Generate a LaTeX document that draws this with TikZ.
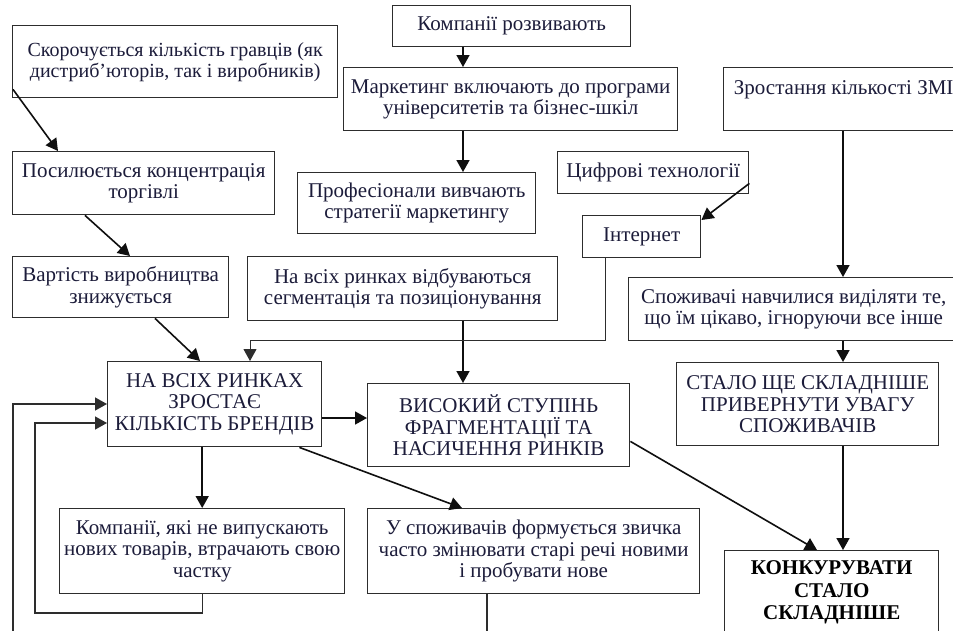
\documentclass[tikz,border=0pt]{standalone}
\usepackage{fontspec}
\setmainfont{Liberation Serif}
\usepackage{xcolor}
\usepackage{tikz}
\usetikzlibrary{positioning,calc,arrows.meta}
\definecolor{mktInk}{RGB}{28, 28, 58}
\definecolor{mktFrame}{RGB}{45, 45, 45}
\definecolor{mktLine}{RGB}{15, 15, 15}

\tikzset{
    mktbox/.style={draw=mktFrame, line width=1.4pt, anchor=north west, align=center,
        inner sep=0pt, text=mktInk, font=\fontsize{21}{21.5}\selectfont},
    mktarrow/.style={draw=mktLine, line width=1.6pt, -{Triangle[length=12pt,width=13pt]}},
}

\begin{document}
\begin{tikzpicture}[x=1pt, y=-1pt]
        % Page frame (pixel grid, y down)
        \useasboundingbox (0,0) rectangle (953,630);
        \fill[white] (0,0) rectangle (953,630);
        \clip (0,0) rectangle (953,630);
        % Columns used by the straight arrows
        \coordinate (midcol) at (463,0);
        \coordinate (rcol) at (843,0);
        \coordinate (brow) at (0,418);
        % Left column
        \node[mktbox, minimum width=325pt, minimum height=72pt,
            font=\fontsize{20}{21}\selectfont] (skor) at (12,25)
            {Скорочується кількість гравців (як\\дистриб’юторів, так і виробників)};
        \node[mktbox, minimum width=262pt, minimum height=63pt] (posyl) at (12,151)
            {Посилюється концентрація\\торгівлі};
        \node[mktbox, minimum width=216pt, minimum height=61pt] (vart) at (12,256)
            {Вартість виробництва\\знижується};
        % Middle column, top
        \node[mktbox, minimum width=238pt, minimum height=41pt] (komp) at (392,5)
            {Компанії розвивають};
        \node[mktbox, minimum width=334pt, minimum height=63pt] (mark) at (343,67)
            {Маркетинг включають до програми\\університетів та бізнес-шкіл};
        \node[mktbox, minimum width=238pt, minimum height=61pt] (prof) at (297,172)
            {Професіонали вивчають\\стратегії маркетингу};
        \node[mktbox, minimum width=191pt, minimum height=42pt] (tsyfr) at (557,151)
            {Цифрові технології};
        \node[mktbox, minimum width=118pt, minimum height=42pt] (inet) at (582,215)
            {Інтернет};
        \node[mktbox, minimum width=310pt, minimum height=64pt] (segm) at (247,256)
            {На всіх ринках відбуваються\\сегментація та позиціонування};
        % Right column
        \node[mktbox, minimum width=240pt, text height=27pt, text depth=36pt] (zmi) at (723,67)
            {Зростання кількості ЗМІ};
        \node[mktbox, minimum width=330pt, minimum height=63pt] (navch) at (628,277)
            {Споживачі навчилися виділяти те,\\що їм цікаво, ігноруючи все інше};
        \node[mktbox, minimum width=262pt, minimum height=83pt] (uvaga) at (676,362)
            {СТАЛО ЩЕ СКЛАДНІШЕ\\ПРИВЕРНУТИ УВАГУ\\СПОЖИВАЧІВ};
        \node[mktbox, minimum width=214pt, minimum height=84pt, text=black,
            font=\fontsize{21}{22.5}\selectfont\bfseries] (konk) at (724,550)
            {КОНКУРУВАТИ\\СТАЛО\\СКЛАДНІШЕ};
        % Central results
        \node[mktbox, minimum width=214pt, minimum height=85pt] (brend) at (107,361)
            {НА ВСІХ РИНКАХ\\ЗРОСТАЄ\\КІЛЬКІСТЬ БРЕНДІВ};
        \node[mktbox, minimum width=262pt, minimum height=83pt] (fragm) at (367,383)
            {ВИСОКИЙ СТУПІНЬ\\ФРАГМЕНТАЦІЇ ТА\\НАСИЧЕННЯ РИНКІВ};
        % Bottom row
        \node[mktbox, minimum width=285pt, minimum height=85pt] (vtrat) at (59,508)
            {Компанії, які не випускають\\нових товарів, втрачають свою\\частку};
        \node[mktbox, minimum width=332pt, minimum height=85pt] (zvych) at (367,508)
            {У споживачів формується звичка\\часто змінювати старі речі новими\\і пробувати нове};
        % Arrows of the left chain
        \draw[mktarrow] ($(skor.south west)+(1,-9)$) -- ($(posyl.north west)+(46,0)$);
        \draw[mktarrow] ($(posyl.south west)+(73,0)$) -- ($(vart.north west)+(118,0)$);
        \draw[mktarrow] ($(vart.south west)+(143,0)$) -- ($(brend.north west)+(93,0)$);
        % Arrows of the middle chain
        \draw[mktarrow] (komp.south -| midcol) -- (mark.north -| midcol);
        \draw[mktarrow] (mark.south -| midcol) -- (prof.north -| midcol);
        \draw[mktarrow] (segm.south -| midcol) -- (fragm.north -| midcol);
        \draw[mktarrow] ($(tsyfr.south east)+(0,-11)$) -- ($(inet.north east)+(0,5)$);
        \draw[mktarrow, line width=1pt, draw=mktFrame] ($(inet.south west)+(23,0)$) -- ++(0,82)
            -| ($(brend.north west)+(143,0)$);
        % Arrows of the right chain
        \draw[mktarrow] (zmi.south -| rcol) -- (navch.north -| rcol);
        \draw[mktarrow] (navch.south -| rcol) -- (uvaga.north -| rcol);
        \draw[mktarrow] (uvaga.south -| rcol) -- (konk.north -| rcol);
        % Arrows out of the brand box
        \draw[mktarrow] (brend.east |- brow) -- (fragm.west |- brow);
        \draw[mktarrow] (brend.south -| vtrat.north) -- (vtrat.north);
        \draw[mktarrow] ($(brend.south east)+(-23,0)$) -- ($(zvych.north west)+(95,0)$);
        \draw[mktarrow] ($(fragm.south east)+(0,-26)$) -- ($(konk.north west)+(93,0)$);
        % Feedback loops back to the brand box
        \coordinate (loopin) at (35,613);
        \coordinate (loopout) at (13,645);
        \draw[mktarrow, draw=mktFrame, line width=1.4pt] (vtrat.south) |- (loopin)
            |- ($(brend.north west)+(0,62)$);
        \draw[mktarrow, draw=mktFrame, line width=1.4pt] ($(zvych.south west)+(120,0)$) |- (loopout)
            |- ($(brend.north west)+(0,43)$);
    \end{tikzpicture}
\end{document}
